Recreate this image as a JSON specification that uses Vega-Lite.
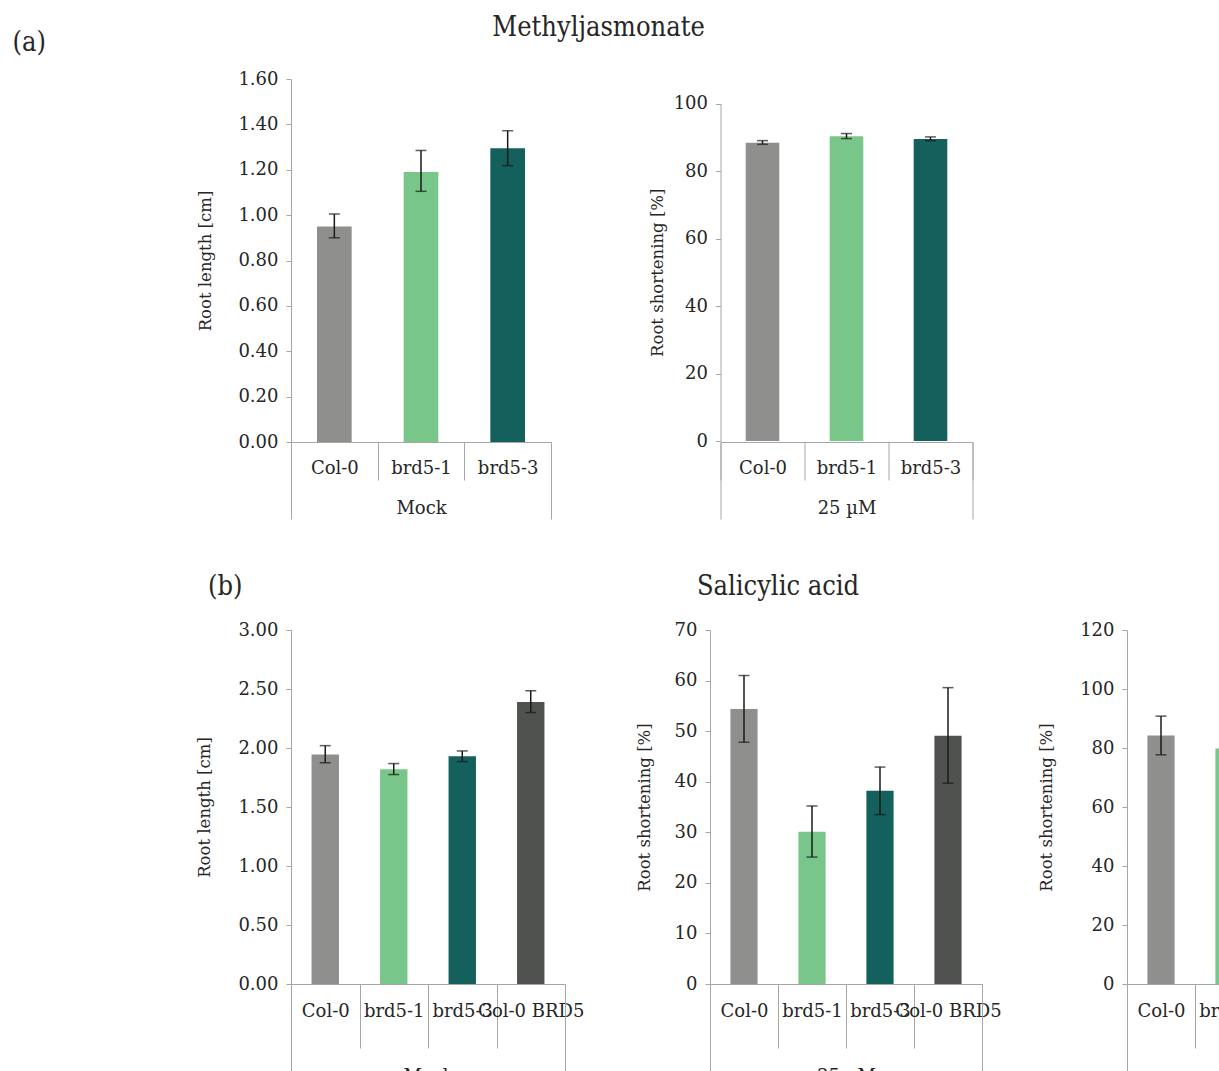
{
  "$schema": "https://vega.github.io/schema/vega-lite/v6.json",
  "background": "white",
  "padding": {"left": 12, "top": 14, "right": 0, "bottom": 0},
  "datasets": {
    "a1": [
      {"treatment": "Mock", "genotype": "Col-0", "mean": 0.95, "lo": 0.9, "hi": 1.005},
      {"treatment": "Mock", "genotype": "brd5-1", "mean": 1.19, "lo": 1.105, "hi": 1.285},
      {"treatment": "Mock", "genotype": "brd5-3", "mean": 1.295, "lo": 1.218, "hi": 1.372}
    ],
    "a2": [
      {"treatment": "25 µM", "genotype": "Col-0", "mean": 88.4, "lo": 87.9, "hi": 89.0},
      {"treatment": "25 µM", "genotype": "brd5-1", "mean": 90.3, "lo": 89.6, "hi": 91.1},
      {"treatment": "25 µM", "genotype": "brd5-3", "mean": 89.5, "lo": 89.0, "hi": 90.1}
    ],
    "b1": [
      {"treatment": "Mock", "genotype": "Col-0", "mean": 1.945, "lo": 1.875, "hi": 2.02},
      {"treatment": "Mock", "genotype": "brd5-1", "mean": 1.82, "lo": 1.775, "hi": 1.868},
      {"treatment": "Mock", "genotype": "brd5-3", "mean": 1.93, "lo": 1.885, "hi": 1.975},
      {"treatment": "Mock", "genotype": "Col-0 BRD5", "mean": 2.39, "lo": 2.3, "hi": 2.485}
    ],
    "b2": [
      {"treatment": "25 µM", "genotype": "Col-0", "mean": 54.4, "lo": 47.8, "hi": 61.0},
      {"treatment": "25 µM", "genotype": "brd5-1", "mean": 30.1, "lo": 25.1, "hi": 35.2},
      {"treatment": "25 µM", "genotype": "brd5-3", "mean": 38.2, "lo": 33.5, "hi": 42.9},
      {"treatment": "25 µM", "genotype": "Col-0 BRD5", "mean": 49.1, "lo": 39.7, "hi": 58.6}
    ],
    "b3": [
      {"treatment": "100 µM", "genotype": "Col-0", "mean": 84.2, "lo": 77.7, "hi": 90.8},
      {"treatment": "100 µM", "genotype": "brd5-1", "mean": 79.8, "lo": 74.8, "hi": 84.9},
      {"treatment": "100 µM", "genotype": "brd5-3", "mean": 81.7, "lo": 77.2, "hi": 86.8},
      {"treatment": "100 µM", "genotype": "Col-0 BRD5", "mean": 86.7, "lo": 77.4, "hi": 96.3}
    ]
  },
  "config": {
    "view": {"stroke": null},
    "font": "DejaVu Serif",
    "axis": {
      "grid": false,
      "labelFont": "DejaVu Serif",
      "labelFontSize": 18,
      "labelColor": "#262626",
      "titleFont": "DejaVu Serif",
      "titleFontSize": 16.5,
      "titleFontWeight": "normal",
      "titleColor": "#262626",
      "domainColor": "#A6A6A6",
      "tickColor": "#A6A6A6",
      "labelOverlap": false,
      "labelFlush": false
    },
    "title": {"font": "DejaVu Serif Condensed, DejaVu Serif", "fontSize": 27, "fontWeight": "normal", "color": "#262626"}
  },
  "spacing": 53,
  "vconcat": [
    {
      "bounds": "flush",
      "spacing": 169.5,
      "hconcat": [
        {
          "width": 260, "height": 363,
          "title": {"text": "\u00a0\u00a0(a)", "anchor": "start", "frame": "group", "dx": -278.5, "offset": 13},
          "data": {"name": "a1"},
          "layer": [
            {"layer": [
              {"mark": {"type": "bar", "width": {"band": 0.4}},
               "encoding": {
                 "x": {"field": "genotype", "type": "nominal", "sort": null, "scale": {"paddingInner": 0, "paddingOuter": 0},
                       "axis": {"orient": "bottom", "title": null, "tickBand": "extent", "tickSize": 38, "labelPadding": -21, "labelAngle": 0}},
                 "y": {"field": "mean", "type": "quantitative", "title": "Root length [cm]", "scale": {"domain": [0, 1.6], "nice": false},
                       "axis": {"values": [0, 0.2, 0.4, 0.6, 0.8, 1.0, 1.2, 1.4, 1.6], "format": ".2f", "tickSize": 5, "labelPadding": 8, "titlePadding": 24}},
                 "color": {"field": "genotype", "type": "nominal", "scale": {"domain": ["Col-0", "brd5-1", "brd5-3", "Col-0 BRD5"], "range": ["#8F8F8D", "#78C68A", "#14605D", "#505250"]}, "legend": null}
               }},
              {"mark": {"type": "rule", "color": "#1a1a1a", "strokeWidth": 1.5},
               "encoding": {"x": {"field": "genotype", "type": "nominal", "sort": null},
                            "y": {"field": "lo", "type": "quantitative", "title": "Root length [cm]"}, "y2": {"field": "hi"}}},
              {"mark": {"type": "tick", "color": "#1a1a1a", "size": 11, "thickness": 1.5},
               "encoding": {"x": {"field": "genotype", "type": "nominal", "sort": null},
                            "y": {"field": "lo", "type": "quantitative", "title": "Root length [cm]"}}},
              {"mark": {"type": "tick", "color": "#1a1a1a", "size": 11, "thickness": 1.5},
               "encoding": {"x": {"field": "genotype", "type": "nominal", "sort": null},
                            "y": {"field": "hi", "type": "quantitative", "title": "Root length [cm]"}}}
            ]},
            {"mark": {"type": "point", "opacity": 0},
             "encoding": {"x": {"field": "treatment", "type": "nominal", "scale": {"type": "band", "paddingInner": 0, "paddingOuter": 0},
                                "axis": {"orient": "bottom", "title": null, "tickBand": "extent", "tickSize": 77, "domain": false, "labelPadding": -20, "labelAngle": 0}}}}
          ],
          "resolve": {"scale": {"x": "independent"}, "axis": {"x": "independent"}}
        },
        {
          "width": 252, "height": 363,
          "title": {"text": "Methyljasmonate", "anchor": "middle", "frame": "group", "dx": -248, "offset": 37},
          "data": {"name": "a2"},
          "layer": [
            {"layer": [
              {"mark": {"type": "bar", "width": {"band": 0.4}},
               "encoding": {
                 "x": {"field": "genotype", "type": "nominal", "sort": null, "scale": {"paddingInner": 0, "paddingOuter": 0},
                       "axis": {"orient": "bottom", "title": null, "tickBand": "extent", "tickSize": 38, "labelPadding": -21, "labelAngle": 0}},
                 "y": {"field": "mean", "type": "quantitative", "title": "Root shortening [%]", "scale": {"domain": [0, 100], "nice": false, "range": [362, 24.5]},
                       "axis": {"values": [0, 10, 20, 30, 40, 50, 60, 70, 80, 90, 100], "format": "d", "tickSize": 5, "labelPadding": 8, "titlePadding": 8}},
                 "color": {"field": "genotype", "type": "nominal", "scale": {"domain": ["Col-0", "brd5-1", "brd5-3", "Col-0 BRD5"], "range": ["#8F8F8D", "#78C68A", "#14605D", "#505250"]}, "legend": null}
               }},
              {"mark": {"type": "rule", "color": "#1a1a1a", "strokeWidth": 1.5},
               "encoding": {"x": {"field": "genotype", "type": "nominal", "sort": null},
                            "y": {"field": "lo", "type": "quantitative", "title": "Root shortening [%]"}, "y2": {"field": "hi"}}},
              {"mark": {"type": "tick", "color": "#1a1a1a", "size": 11, "thickness": 1.5},
               "encoding": {"x": {"field": "genotype", "type": "nominal", "sort": null},
                            "y": {"field": "lo", "type": "quantitative", "title": "Root shortening [%]"}}},
              {"mark": {"type": "tick", "color": "#1a1a1a", "size": 11, "thickness": 1.5},
               "encoding": {"x": {"field": "genotype", "type": "nominal", "sort": null},
                            "y": {"field": "hi", "type": "quantitative", "title": "Root shortening [%]"}}}
            ]},
            {"mark": {"type": "point", "opacity": 0},
             "encoding": {"x": {"field": "treatment", "type": "nominal", "scale": {"type": "band", "paddingInner": 0, "paddingOuter": 0},
                                "axis": {"orient": "bottom", "title": null, "tickBand": "extent", "tickSize": 77, "domain": false, "labelPadding": -20, "labelAngle": 0}}}}
          ],
          "resolve": {"scale": {"x": "independent"}, "axis": {"x": "independent"}}
        }
      ]
    },
    {
      "bounds": "flush",
      "spacing": 145,
      "hconcat": [
        {
          "width": 274, "height": 354,
          "title": {"text": "(b)", "anchor": "start", "frame": "group", "dx": -83, "offset": 20},
          "data": {"name": "b1"},
          "layer": [
            {"layer": [
              {"mark": {"type": "bar", "width": {"band": 0.4}},
               "encoding": {
                 "x": {"field": "genotype", "type": "nominal", "sort": null, "scale": {"paddingInner": 0, "paddingOuter": 0},
                       "axis": {"orient": "bottom", "title": null, "tickBand": "extent", "tickSize": 64, "labelPadding": -45.5, "labelAngle": 0}},
                 "y": {"field": "mean", "type": "quantitative", "title": "Root length [cm]", "scale": {"domain": [0, 3], "nice": false},
                       "axis": {"values": [0, 0.5, 1, 1.5, 2, 2.5, 3], "format": ".2f", "tickSize": 5, "labelPadding": 8, "titlePadding": 25}},
                 "color": {"field": "genotype", "type": "nominal", "scale": {"domain": ["Col-0", "brd5-1", "brd5-3", "Col-0 BRD5"], "range": ["#8F8F8D", "#78C68A", "#14605D", "#505250"]}, "legend": null}
               }},
              {"mark": {"type": "rule", "color": "#1a1a1a", "strokeWidth": 1.5},
               "encoding": {"x": {"field": "genotype", "type": "nominal", "sort": null},
                            "y": {"field": "lo", "type": "quantitative", "title": "Root length [cm]"}, "y2": {"field": "hi"}}},
              {"mark": {"type": "tick", "color": "#1a1a1a", "size": 11, "thickness": 1.5},
               "encoding": {"x": {"field": "genotype", "type": "nominal", "sort": null},
                            "y": {"field": "lo", "type": "quantitative", "title": "Root length [cm]"}}},
              {"mark": {"type": "tick", "color": "#1a1a1a", "size": 11, "thickness": 1.5},
               "encoding": {"x": {"field": "genotype", "type": "nominal", "sort": null},
                            "y": {"field": "hi", "type": "quantitative", "title": "Root length [cm]"}}}
            ]},
            {"mark": {"type": "point", "opacity": 0},
             "encoding": {"x": {"field": "treatment", "type": "nominal", "scale": {"type": "band", "paddingInner": 0, "paddingOuter": 0},
                                "axis": {"orient": "bottom", "title": null, "tickBand": "extent", "tickSize": 106, "domain": false, "labelPadding": -22.5, "labelAngle": 0}}}}
          ],
          "resolve": {"scale": {"x": "independent"}, "axis": {"x": "independent"}}
        },
        {
          "width": 272, "height": 354,
          "title": {"text": "Salicylic acid", "anchor": "middle", "frame": "group", "dx": -68, "offset": 20},
          "data": {"name": "b2"},
          "layer": [
            {"layer": [
              {"mark": {"type": "bar", "width": {"band": 0.4}},
               "encoding": {
                 "x": {"field": "genotype", "type": "nominal", "sort": null, "scale": {"paddingInner": 0, "paddingOuter": 0},
                       "axis": {"orient": "bottom", "title": null, "tickBand": "extent", "tickSize": 64, "labelPadding": -45.5, "labelAngle": 0}},
                 "y": {"field": "mean", "type": "quantitative", "title": "Root shortening [%]", "scale": {"domain": [0, 70], "nice": false},
                       "axis": {"values": [0, 10, 20, 30, 40, 50, 60, 70], "format": "d", "tickSize": 5, "labelPadding": 8, "titlePadding": 22}},
                 "color": {"field": "genotype", "type": "nominal", "scale": {"domain": ["Col-0", "brd5-1", "brd5-3", "Col-0 BRD5"], "range": ["#8F8F8D", "#78C68A", "#14605D", "#505250"]}, "legend": null}
               }},
              {"mark": {"type": "rule", "color": "#1a1a1a", "strokeWidth": 1.5},
               "encoding": {"x": {"field": "genotype", "type": "nominal", "sort": null},
                            "y": {"field": "lo", "type": "quantitative", "title": "Root shortening [%]"}, "y2": {"field": "hi"}}},
              {"mark": {"type": "tick", "color": "#1a1a1a", "size": 11, "thickness": 1.5},
               "encoding": {"x": {"field": "genotype", "type": "nominal", "sort": null},
                            "y": {"field": "lo", "type": "quantitative", "title": "Root shortening [%]"}}},
              {"mark": {"type": "tick", "color": "#1a1a1a", "size": 11, "thickness": 1.5},
               "encoding": {"x": {"field": "genotype", "type": "nominal", "sort": null},
                            "y": {"field": "hi", "type": "quantitative", "title": "Root shortening [%]"}}}
            ]},
            {"mark": {"type": "point", "opacity": 0},
             "encoding": {"x": {"field": "treatment", "type": "nominal", "scale": {"type": "band", "paddingInner": 0, "paddingOuter": 0},
                                "axis": {"orient": "bottom", "title": null, "tickBand": "extent", "tickSize": 106, "domain": false, "labelPadding": -22.5, "labelAngle": 0}}}}
          ],
          "resolve": {"scale": {"x": "independent"}, "axis": {"x": "independent"}}
        },
        {
          "width": 272, "height": 354,
          "data": {"name": "b3"},
          "layer": [
            {"layer": [
              {"mark": {"type": "bar", "width": {"band": 0.4}},
               "encoding": {
                 "x": {"field": "genotype", "type": "nominal", "sort": null, "scale": {"paddingInner": 0, "paddingOuter": 0},
                       "axis": {"orient": "bottom", "title": null, "tickBand": "extent", "tickSize": 64, "labelPadding": -45.5, "labelAngle": 0}},
                 "y": {"field": "mean", "type": "quantitative", "title": "Root shortening [%]", "scale": {"domain": [0, 120], "nice": false},
                       "axis": {"values": [0, 20, 40, 60, 80, 100, 120], "format": "d", "tickSize": 5, "labelPadding": 8, "titlePadding": 25}},
                 "color": {"field": "genotype", "type": "nominal", "scale": {"domain": ["Col-0", "brd5-1", "brd5-3", "Col-0 BRD5"], "range": ["#8F8F8D", "#78C68A", "#14605D", "#505250"]}, "legend": null}
               }},
              {"mark": {"type": "rule", "color": "#1a1a1a", "strokeWidth": 1.5},
               "encoding": {"x": {"field": "genotype", "type": "nominal", "sort": null},
                            "y": {"field": "lo", "type": "quantitative", "title": "Root shortening [%]"}, "y2": {"field": "hi"}}},
              {"mark": {"type": "tick", "color": "#1a1a1a", "size": 11, "thickness": 1.5},
               "encoding": {"x": {"field": "genotype", "type": "nominal", "sort": null},
                            "y": {"field": "lo", "type": "quantitative", "title": "Root shortening [%]"}}},
              {"mark": {"type": "tick", "color": "#1a1a1a", "size": 11, "thickness": 1.5},
               "encoding": {"x": {"field": "genotype", "type": "nominal", "sort": null},
                            "y": {"field": "hi", "type": "quantitative", "title": "Root shortening [%]"}}}
            ]},
            {"mark": {"type": "point", "opacity": 0},
             "encoding": {"x": {"field": "treatment", "type": "nominal", "scale": {"type": "band", "paddingInner": 0, "paddingOuter": 0},
                                "axis": {"orient": "bottom", "title": null, "tickBand": "extent", "tickSize": 106, "domain": false, "labelPadding": -22.5, "labelAngle": 0}}}}
          ],
          "resolve": {"scale": {"x": "independent"}, "axis": {"x": "independent"}}
        }
      ]
    }
  ]
}
